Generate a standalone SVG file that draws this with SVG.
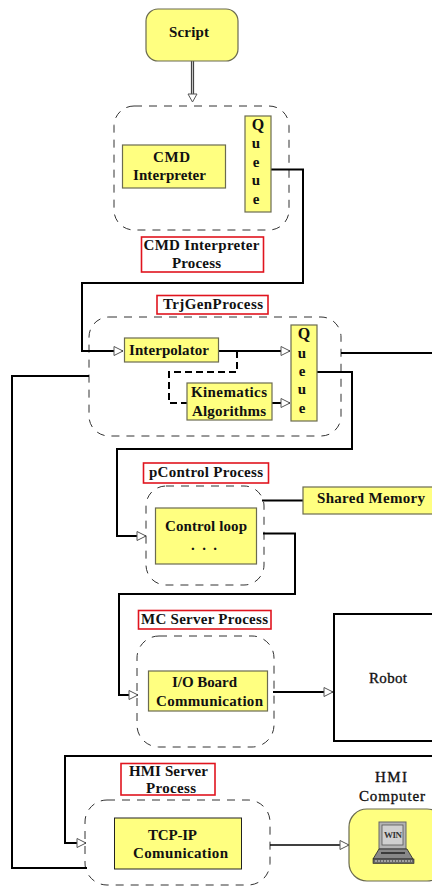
<svg xmlns="http://www.w3.org/2000/svg" width="432" height="888" viewBox="0 0 432 888">
<style>
text{font-family:"Liberation Serif","Times New Roman",serif;font-size:15px;font-weight:bold;fill:#111}
.y{fill:#ffff80;stroke:#6b6b50;stroke-width:1.2}
.k{fill:#ffff80;stroke:#222;stroke-width:1}
.d{fill:none;stroke:#333;stroke-width:1;stroke-dasharray:8 7}
.r{fill:#fff;stroke:#e0141e;stroke-width:1.6}
.c{fill:none;stroke:#000;stroke-width:2}
.a{marker-end:url(#tri)}
.q{text-anchor:middle}
.m{font-weight:normal;stroke:#111;stroke-width:.35}
</style>
<defs>
<marker id="tri" markerUnits="userSpaceOnUse" markerWidth="12" markerHeight="12" refX="10" refY="5" orient="auto" overflow="visible">
<path d="M1 .5L10 5L1 9.500Z" fill="#fff" stroke="#555" stroke-width="1"/>
</marker>
</defs>
<rect width="432" height="888" fill="#fff"/>

<g id="process-outlines">
<rect class="d" x="114" y="106" width="175" height="124" rx="20"/>
<rect class="d" x="89" y="317" width="252" height="119" rx="20"/>
<rect class="d" x="146" y="486" width="118" height="99" rx="20"/>
<rect class="d" x="137" y="636" width="137" height="111" rx="22"/>
<rect class="d" x="85" y="800" width="185" height="85" rx="22"/>
</g>

<g id="connectors">
<line x1="192.500" y1="61" x2="192.500" y2="95" stroke="#444" stroke-width="3.200"/>
<line x1="192.500" y1="61" x2="192.500" y2="95" stroke="#c4c4c4" stroke-width="1"/>
<path d="M188 94H197L192.500 102Z" fill="#fff" stroke="#555"/>
<path class="c a" d="M271 169.500H303V283H82V351H123"/>
<path class="c a" d="M218 351H290"/>
<path d="M237 351V372H169V403H187" fill="none" stroke="#000" stroke-width="2" stroke-dasharray="7 4"/>
<path class="c a" d="M272 403H290"/>
<path class="c" d="M341 353H432"/>
<path class="c a" d="M317 372H352V449H117V536H146"/>
<path class="c" d="M89 376H12V868H87"/>
<path class="c" d="M262 500.500H303"/>
<path class="c a" d="M263 533.500H295V594H119V695H138"/>
<path class="c a" d="M273 692H333"/>
<path class="c a" d="M432 756H65V843H86"/>
<path class="c a" d="M270 845H349" style="stroke-width:1.500"/>
</g>

<g id="script"><rect class="y" x="146" y="9" width="92" height="52" rx="12"/><text x="169" y="37" textLength="40">Script</text></g>
<g id="cmd-interpreter"><rect class="y" x="122.500" y="145" width="103" height="43"/><text x="153" y="162" textLength="37">CMD</text><text x="133" y="180" textLength="73">Interpreter</text></g>
<g id="queue-1"><rect class="y" x="245" y="116" width="26" height="96"/><text class="q" x="258" y="130" style="font-size:16px">Q</text><text class="q" x="256" y="148">u</text><text class="q" x="256" y="167">e</text><text class="q" x="256" y="185">u</text><text class="q" x="256" y="204">e</text></g>
<g id="label-cmd"><rect class="r" x="141.500" y="237" width="122" height="35"/><text x="143.500" y="250" textLength="116">CMD Interpreter</text><text x="172" y="268" textLength="49">Process</text></g>
<g id="label-trj"><rect class="r" x="157" y="295.500" width="111" height="18.500"/><text x="163" y="309" textLength="100">TrjGenProcess</text></g>
<g id="interpolator"><rect class="y" x="124.500" y="338" width="94" height="24"/><text x="129" y="355" textLength="80">Interpolator</text></g>
<g id="queue-2"><rect class="y" x="291" y="325" width="26" height="96"/><text class="q" x="304" y="339" style="font-size:16px">Q</text><text class="q" x="302" y="358">u</text><text class="q" x="302" y="376">e</text><text class="q" x="302" y="394">u</text><text class="q" x="302" y="413">e</text></g>
<g id="kinematics"><rect class="y" x="187" y="383" width="85" height="37"/><text x="191" y="397" textLength="76">Kinematics</text><text x="192" y="416" textLength="74">Algorithms</text></g>
<g id="label-pcontrol"><rect class="r" x="143.500" y="463" width="125" height="20"/><text x="149" y="477" textLength="114">pControl Process</text></g>
<g id="shared-memory"><rect class="y" x="303" y="487" width="131" height="27"/><text x="317" y="503" textLength="108">Shared Memory</text></g>
<g id="control-loop"><rect class="y" x="155.500" y="508" width="101" height="56"/><text x="165" y="531" textLength="82">Control loop</text><text x="191" y="550" textLength="26">. . .</text></g>
<g id="label-mc"><rect class="r" x="138.500" y="610.500" width="132.500" height="18.500"/><text x="141" y="624" textLength="127">MC Server Process</text></g>
<g id="io-board"><rect class="y" x="148.500" y="671" width="119" height="40"/><text x="172" y="687" textLength="65">I/O Board</text><text x="156" y="706" textLength="107">Communication</text></g>
<g id="robot"><rect x="334" y="614" width="110" height="127" fill="#fff" stroke="#000" stroke-width="2"/><text class="m" x="369" y="683" textLength="38">Robot</text></g>
<g id="label-hmi"><rect class="r" x="121" y="763.500" width="94" height="31.500"/><text x="129" y="776" textLength="79">HMI Server</text><text x="146" y="793" textLength="50">Process</text></g>
<g id="tcp-ip"><rect class="k" x="114.500" y="818" width="127" height="51"/><text x="148" y="840" textLength="49">TCP-IP</text><text x="133" y="858" textLength="95">Comunication</text></g>
<g id="hmi-computer">
<text class="m" x="375" y="782" textLength="32">HMI</text><text class="m" x="359" y="801" textLength="66">Computer</text>
<rect class="y" x="349" y="809" width="96" height="72" rx="18"/>
<rect x="379" y="822" width="27" height="27" fill="#b4b4b4" stroke="#666"/>
<rect x="382" y="825" width="21" height="20" fill="#d0d0d0" stroke="#555" stroke-width=".8"/>
<text x="384" y="838" textLength="18" style="font-size:9px;fill:#333">WIN</text>
<path d="M379 849H407L413 859H373Z" fill="#888" stroke="#222" stroke-width=".8"/>
<path d="M381 853H405" stroke="#222" stroke-width="1.500"/>
<rect x="373" y="859" width="41" height="4.500" fill="#666" stroke="#222" stroke-width=".6"/>
<path d="M375 861H412" stroke="#ddd" stroke-width="1" stroke-dasharray="2 1"/>
</g>
</svg>
